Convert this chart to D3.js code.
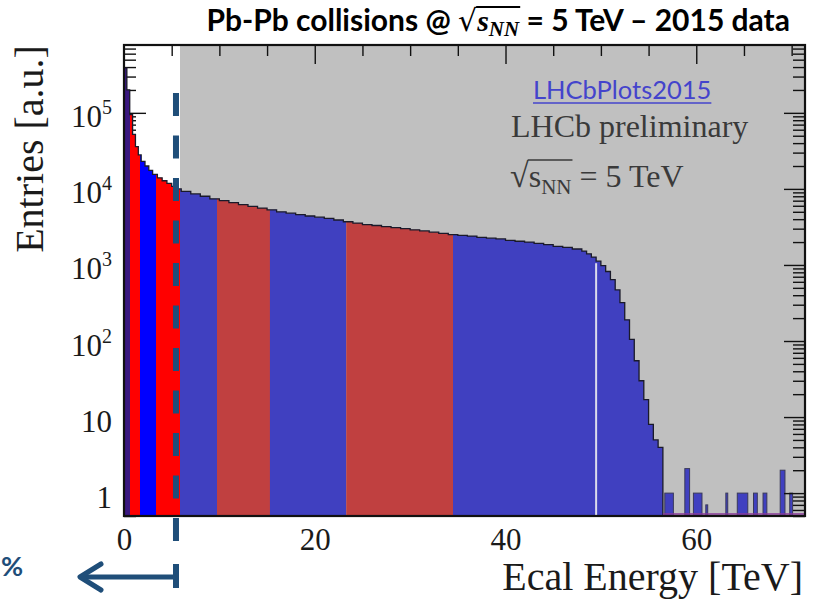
<!DOCTYPE html>
<html>
<head>
<meta charset="utf-8">
<script src="https://cdn.jsdelivr.net/npm/d3@7"></script>
<style>
  body { margin: 0; background: #fff; }
  svg { display: block; }
</style>
</head>
<body>
<div id="chart"></div>
<script>
// ---- data ----
// histogram bin edges (TeV) and entries per bin
const binEdges = [0, 0.3, 0.6, 0.9, 1.2, 1.5, 1.8, 2.2, 2.6, 3.0, 3.5, 4.0, 4.5, 5.0, 5.5,
  6, 7, 8, 9, 10, 11, 12, 13, 14, 15, 16, 17, 18, 19, 20, 21, 22, 23, 24, 25, 26, 27, 28, 29, 30,
  31, 32, 33, 34, 35, 36, 37, 38, 39, 40, 41, 42, 43, 44, 45, 46, 47, 48,
  48.5, 49, 49.5, 50, 50.5, 51, 51.5, 52, 52.5, 53, 53.5, 54, 54.5, 55, 55.5, 56, 56.5];
const counts = [3.9e5, 2.0e5, 9.5e4, 5.2e4, 3.6e4, 2.8e4, 2.3e4, 2.0e4, 1.75e4, 1.55e4, 1.4e4, 1.28e4, 1.18e4, 1.08e4, 1.0e4,
  9300, 8600, 8000, 7400, 7000, 6600, 6200, 5900, 5600, 5300, 5000, 4800, 4600, 4400, 4250, 4100, 3900, 3700, 3550, 3400,
  3300, 3200, 3100, 3000, 2900, 2800, 2700, 2600, 2500, 2450, 2400, 2300, 2250, 2200, 2100, 2050, 2000, 1920, 1850, 1750,
  1700, 1620,
  1520, 1400, 1270, 1120, 980, 820, 640, 470, 320, 190, 105, 55, 30, 17, 8, 5, 4];

// isolated single-entry bins in the far tail
const tailLo = [56.7, 58.8, 59.7, 61.0, 63.1, 64.3, 66.0, 67.0, 68.8, 69.8];
const tailHi = [57.6, 59.3, 60.6, 61.2, 63.3, 65.4, 66.4, 67.4, 69.3, 70.1];
const tailCounts = [1, 2.1, 1, 0.7, 1, 1, 1, 1, 2, 1];

// centrality classes (TeV) and their colours
const bandEdges = [0, 0.63, 1.68, 3.35, 5.87, 9.75, 15.3, 23.3, 34.5, 71.4];
const bandColors = ["#3a1880", "#ff0000", "#0000ff", "#ff0000", "#4040c0", "#c04040", "#4040c0", "#c04040", "#4040c0"];

const xTickLabels = [0, 20, 40, 60];
const yTickValues = [1, 10, 100, 1000, 10000, 100000];
const yTickBase = ["1", "10", "10", "10", "10", "10"];
const yTickExp = ["", "", "2", "3", "4", "5"];

const shadedFrom = 5.87;   // grey panel starts here
const cutEnergy = 5.45;    // dashed cut line
const gapEnergy = 49.5;    // thin white gap in the histogram

// ---- layout ----
const W = 813, H = 599;
const plot = {left: 124, right: 805, top: 45, bottom: 516};
const serif = "'Liberation Serif', 'Times New Roman', serif";
const sans = "Lato, 'Open Sans', sans-serif";
const annot = "#1f4e79";

const svg = d3.select("#chart").append("svg")
    .attr("width", W)
    .attr("height", H);

const x = d3.scaleLinear().domain([0, 71.4]).range([plot.left, plot.right]);
const y = d3.scaleLog().domain([0.5, 7.8e5]).range([plot.bottom, plot.top]);

const allY = y.ticks().filter(d => d >= 0.5 && d <= 7.8e5);
const isMajor = d => Math.abs(Math.log10(d) - Math.round(Math.log10(d))) < 1e-9;
const yMajor = allY.filter(isMajor);
const yMinor = allY.filter(d => !isMajor(d));

function tickAxis(axis, tx, ty) {
  const g = svg.append("g")
      .attr("transform", `translate(${tx},${ty})`)
      .attr("color", "#111")
      .call(axis);
  g.select(".domain").remove();
  g.selectAll("line").attr("stroke-width", 1.4);
  return g;
}

// left axis ticks go underneath the histogram
tickAxis(d3.axisLeft(y).tickValues(yMinor).tickSizeInner(-12).tickSizeOuter(0).tickFormat(""), plot.left, 0);
tickAxis(d3.axisLeft(y).tickValues(yMajor).tickSizeInner(-22).tickSizeOuter(0).tickFormat(""), plot.left, 0);

// grey panel
svg.append("rect")
    .attr("x", x(shadedFrom))
    .attr("y", plot.top)
    .attr("width", plot.right - x(shadedFrom))
    .attr("height", plot.bottom - plot.top)
    .attr("fill", "#c0c0c0");

// histogram as a step area, coloured per band with clip paths
const pts = counts.map((c, i) => ({e: binEdges[i], c: c}));
pts.push({e: binEdges[binEdges.length - 1], c: counts[counts.length - 1]});

const area = d3.area()
    .x(d => x(d.e))
    .y0(plot.bottom)
    .y1(d => y(d.c))
    .curve(d3.curveStepAfter);

const defs = svg.append("defs");
bandColors.forEach((col, i) => {
  defs.append("clipPath").attr("id", "band" + i)
    .append("rect")
      .attr("x", x(bandEdges[i]))
      .attr("y", plot.top)
      .attr("width", x(bandEdges[i + 1]) - x(bandEdges[i]))
      .attr("height", plot.bottom - plot.top);
  svg.append("path")
      .datum(pts)
      .attr("clip-path", `url(#band${i})`)
      .attr("fill", col)
      .attr("d", area);
});

// outline of the histogram
const outline = pts.concat([{e: binEdges[binEdges.length - 1], c: 0.5}]);
svg.append("path")
    .datum(outline)
    .attr("fill", "none")
    .attr("stroke", "#1a1a2a")
    .attr("stroke-width", 1.3)
    .attr("d", d3.line().x(d => x(d.e)).y(d => y(d.c)).curve(d3.curveStepAfter));

// thin gap line
const gapBin = d3.bisectRight(binEdges, gapEnergy) - 1;
svg.append("line")
    .attr("x1", x(gapEnergy)).attr("x2", x(gapEnergy))
    .attr("y1", y(counts[gapBin]) + 2).attr("y2", plot.bottom)
    .attr("stroke", "#dcdcec")
    .attr("stroke-width", 2);

// tail bins
svg.selectAll(".tail")
  .data(tailLo)
  .join("rect")
    .attr("class", "tail")
    .attr("x", (d, i) => x(d))
    .attr("width", (d, i) => Math.max(1.5, x(tailHi[i]) - x(d)))
    .attr("y", (d, i) => y(tailCounts[i]))
    .attr("height", (d, i) => plot.bottom - y(tailCounts[i]))
    .attr("fill", "#4040c0")
    .attr("stroke", "#3a3a5a")
    .attr("stroke-width", 1);

svg.append("line")
    .attr("x1", x(binEdges[binEdges.length - 1])).attr("x2", plot.right)
    .attr("y1", plot.bottom - 2).attr("y2", plot.bottom - 2)
    .attr("stroke", "#8a3a9a")
    .attr("stroke-width", 1.5);

// right and top ticks on top
tickAxis(d3.axisRight(y).tickValues(yMinor).tickSizeInner(-12).tickSizeOuter(0).tickFormat(""), plot.right, 0);
tickAxis(d3.axisRight(y).tickValues(yMajor).tickSizeInner(-21).tickSizeOuter(0).tickFormat(""), plot.right, 0);
const topMinor = [5, 10, 15, 25, 30, 35, 45, 50, 55, 65, 70];
const topMajor = [20, 40, 60];
tickAxis(d3.axisTop(x).tickValues(topMinor).tickSizeInner(-11).tickSizeOuter(0).tickFormat(""), 0, plot.top);
tickAxis(d3.axisTop(x).tickValues(topMajor).tickSizeInner(-19).tickSizeOuter(0).tickFormat(""), 0, plot.top);

// frame
svg.append("rect")
    .attr("x", plot.left).attr("y", plot.top)
    .attr("width", plot.right - plot.left).attr("height", plot.bottom - plot.top)
    .attr("fill", "none")
    .attr("stroke", "#111")
    .attr("stroke-width", 2.2);

// x tick labels
const xLab = svg.append("g")
    .attr("transform", `translate(0,${plot.bottom})`)
    .call(d3.axisBottom(x).tickValues(xTickLabels).tickSize(0).tickPadding(0).tickFormat(d3.format("d")));
xLab.select(".domain").remove();
xLab.selectAll("text")
    .attr("y", 34)
    .attr("dy", 0)
    .style("font-family", serif)
    .style("font-size", "31px")
    .attr("fill", "#1a1a1a");

// y tick labels with exponents
const yLab = svg.append("g")
    .attr("transform", "translate(112,0)")
    .call(d3.axisLeft(y).tickValues(yTickValues).tickSize(0).tickPadding(0).tickFormat(""));
yLab.select(".domain").remove();
yLab.selectAll(".tick").each(function(d, i) {
  const t = d3.select(this).select("text")
      .attr("x", 0).attr("dy", 0).attr("y", 14)
      .attr("text-anchor", "end")
      .style("font-family", serif)
      .style("font-size", "31px")
      .attr("fill", "#1a1a1a");
  t.append("tspan").text(yTickBase[i]);
  if (yTickExp[i]) {
    t.append("tspan").attr("dy", -13).style("font-size", "20px").text(yTickExp[i]);
  }
});

// axis titles
svg.append("text")
    .attr("x", 803).attr("y", 590)
    .attr("text-anchor", "end")
    .style("font-family", serif)
    .style("font-size", "40px")
    .attr("fill", "#1a1a1a")
    .text("Ecal Energy [TeV]");

svg.append("text")
    .attr("transform", "translate(43,149) rotate(-90)")
    .attr("text-anchor", "middle")
    .style("font-family", serif)
    .style("font-size", "40px")
    .attr("fill", "#1a1a1a")
    .text("Entries [a.u.]");

// overline helper for square-root signs
function overline(textSel, i0, i1, yTop, width, color) {
  const n = textSel.node();
  const a = n.getExtentOfChar(i0), b = n.getExtentOfChar(i1);
  svg.append("line")
      .attr("x1", a.x - 1).attr("x2", b.x + b.width + 1)
      .attr("y1", yTop).attr("y2", yTop)
      .attr("stroke", color).attr("stroke-width", width);
}

// title
const title = svg.append("text")
    .attr("x", 790).attr("y", 31)
    .attr("text-anchor", "end")
    .style("font-family", sans)
    .style("font-weight", "bold")
    .style("font-size", "30px")
    .attr("fill", "#000");
title.append("tspan").text("Pb-Pb collisions @ ");
title.append("tspan").style("font-family", "'DejaVu Sans'").style("font-weight", "normal").style("font-size", "30px").text("√");
title.append("tspan").style("font-family", serif).style("font-style", "italic").style("font-size", "30px").text("s");
title.append("tspan").attr("dy", 5).style("font-family", serif).style("font-style", "italic").style("font-size", "21px").text("NN");
title.append("tspan").attr("dy", -5).text(" = 5 TeV – 2015 data");
overline(title, 20, 22, 7, 1.8, "#000");

// LHCb labels
const link = svg.append("text")
    .attr("x", 533).attr("y", 99)
    .style("font-family", sans)
    .style("font-size", "25.5px")
    .attr("fill", "#4444cc")
    .text("LHCbPlots2015");
const lb = link.node().getBBox();
svg.append("line")
    .attr("x1", lb.x).attr("x2", lb.x + lb.width)
    .attr("y1", 103).attr("y2", 103)
    .attr("stroke", "#4444cc").attr("stroke-width", 1.5);

svg.append("text")
    .attr("x", 511).attr("y", 137)
    .style("font-family", serif)
    .style("font-size", "32px")
    .attr("fill", "#3a3a3a")
    .text("LHCb preliminary");

const sqs = svg.append("text")
    .attr("x", 510).attr("y", 187)
    .style("font-family", serif)
    .style("font-size", "32px")
    .attr("fill", "#3a3a3a");
sqs.append("tspan").style("font-family", "'DejaVu Sans'").style("font-weight", "200").style("font-size", "34px").text("√");
sqs.append("tspan").text("s");
sqs.append("tspan").attr("dy", 7).style("font-size", "21px").text("NN");
sqs.append("tspan").attr("dy", -7).text(" = 5 TeV");
overline(sqs, 1, 3, 160, 1.5, "#3a3a3a");

// dashed cut line and arrow
svg.append("line")
    .attr("x1", x(cutEnergy)).attr("x2", x(cutEnergy))
    .attr("y1", 93).attr("y2", 544)
    .attr("stroke", annot)
    .attr("stroke-width", 6)
    .attr("stroke-dasharray", "23 19.5");

svg.append("line")
    .attr("x1", x(cutEnergy)).attr("x2", x(cutEnergy))
    .attr("y1", 564).attr("y2", 588)
    .attr("stroke", annot).attr("stroke-width", 6);
svg.append("line")
    .attr("x1", x(cutEnergy)).attr("x2", 80)
    .attr("y1", 577).attr("y2", 577)
    .attr("stroke", annot).attr("stroke-width", 5);
svg.append("path")
    .attr("d", "M101,564 L80,577 L101,590")
    .attr("fill", "none")
    .attr("stroke", annot).attr("stroke-width", 5)
    .attr("stroke-linecap", "round").attr("stroke-linejoin", "round");

svg.append("text")
    .attr("x", 1).attr("y", 576)
    .attr("text-anchor", "start")
    .style("font-family", sans)
    .style("font-weight", "bold")
    .style("font-size", "27px")
    .attr("fill", annot)
    .text("%");
</script>
</body>
</html>
